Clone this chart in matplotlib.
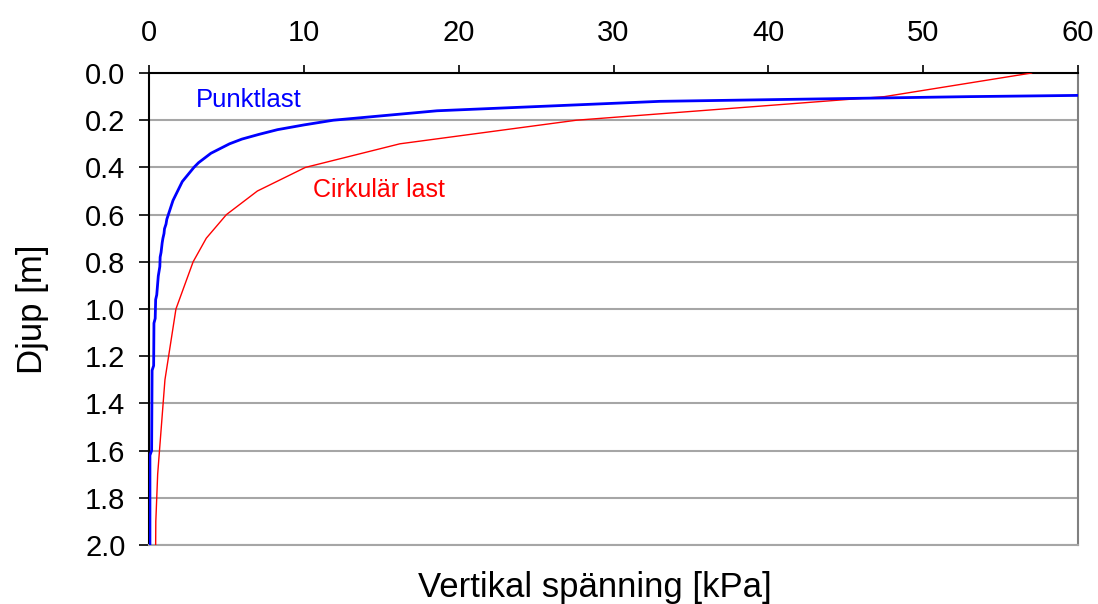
import numpy as np
import matplotlib.pyplot as plt

plt.rcParams['font.family'] = ['Liberation Sans', 'DejaVu Sans']

# Punktlast (blå kurva): djup [m] och vertikal spänning [kPa]
djup_punkt = [0.08, 0.10, 0.12, 0.16, 0.20, 0.22, 0.24, 0.26, 0.28, 0.30,
              0.32, 0.34, 0.36, 0.38, 0.40, 0.42, 0.44, 0.46, 0.48, 0.50,
              0.52, 0.54, 0.56, 0.58, 0.60, 0.62, 0.64, 0.66, 0.68, 0.70,
              0.72, 0.76, 0.78, 0.82, 0.86, 0.90, 0.94, 0.96, 1.04, 1.06,
              1.24, 1.26, 1.60, 1.62, 2.00]
sigma_punkt = [80.0, 53.0, 33.0, 18.6, 11.9, 10.0, 8.3, 7.1, 6.0, 5.2,
               4.6, 4.0, 3.6, 3.2, 2.9, 2.65, 2.4, 2.15, 2.0, 1.85,
               1.7, 1.55, 1.45, 1.35, 1.25, 1.15, 1.1, 1.0, 0.97, 0.9,
               0.85, 0.78, 0.72, 0.7, 0.6, 0.55, 0.5, 0.43, 0.4, 0.32,
               0.3, 0.2, 0.17, 0.06, 0.06]

# Cirkulär last (röd kurva)
djup_cirk = [0.0, 0.1, 0.2, 0.3, 0.4, 0.5, 0.6, 0.7, 0.8, 1.0, 1.3, 1.7, 1.9, 2.0]
sigma_cirk = [57.0, 47.5, 27.6, 16.2, 10.1, 7.0, 5.0, 3.7, 2.85, 1.74, 1.03, 0.56, 0.44, 0.43]

xticks = [0, 10, 20, 30, 40, 50, 60]
yticks = np.round(np.arange(0, 2.01, 0.2), 1)

fig = plt.figure(figsize=(10.98, 6.04), dpi=100)
ax = fig.add_axes([0.1357, 0.0977, 0.8461, 0.7814])

ax.plot(sigma_cirk, djup_cirk, color='#ff0000', lw=1.0, zorder=3)
ax.plot(sigma_punkt, djup_punkt, color='#0000ff', lw=2.0, zorder=4)

ax.set_xlim(0, 60)
ax.set_ylim(2.0, 0.0)
ax.xaxis.tick_top()
ax.set_xticks(xticks)
ax.set_yticks(yticks)
ax.set_yticklabels(['%.1f' % v for v in yticks])
ax.tick_params(axis='both', labelsize=21, direction='out', width=1.2, colors='black')
ax.tick_params(axis='x', length=6, pad=13)
ax.tick_params(axis='y', length=7, pad=10)

ax.grid(axis='y', color='#a6a6a6', lw=1.5)
ax.set_axisbelow(True)

ax.spines['left'].set_color('black')
ax.spines['top'].set_color('black')
ax.spines['left'].set_linewidth(1.5)
ax.spines['top'].set_linewidth(1.5)
ax.spines['right'].set_color('#808080')
ax.spines['right'].set_linewidth(1.5)
ax.spines['bottom'].set_color('#a6a6a6')
ax.spines['bottom'].set_linewidth(1.5)

ax.set_ylabel('Djup [m]', fontsize=25, labelpad=26)
ax.set_xlabel('Vertikal spänning [kPa]', fontsize=25, labelpad=15)
ax.xaxis.set_label_position('bottom')
ax.xaxis.set_label_coords(0.48, -0.055, transform=ax.transAxes)
ax.xaxis.label.set_va('top')

ax.text(3.0, 0.115, 'Punktlast', color='#0000ff', fontsize=18.5, va='center', ha='left')
ax.text(10.6, 0.495, 'Cirkulär last', color='#ff0000', fontsize=18, va='center', ha='left')

fig.savefig('out.png', dpi=100)
